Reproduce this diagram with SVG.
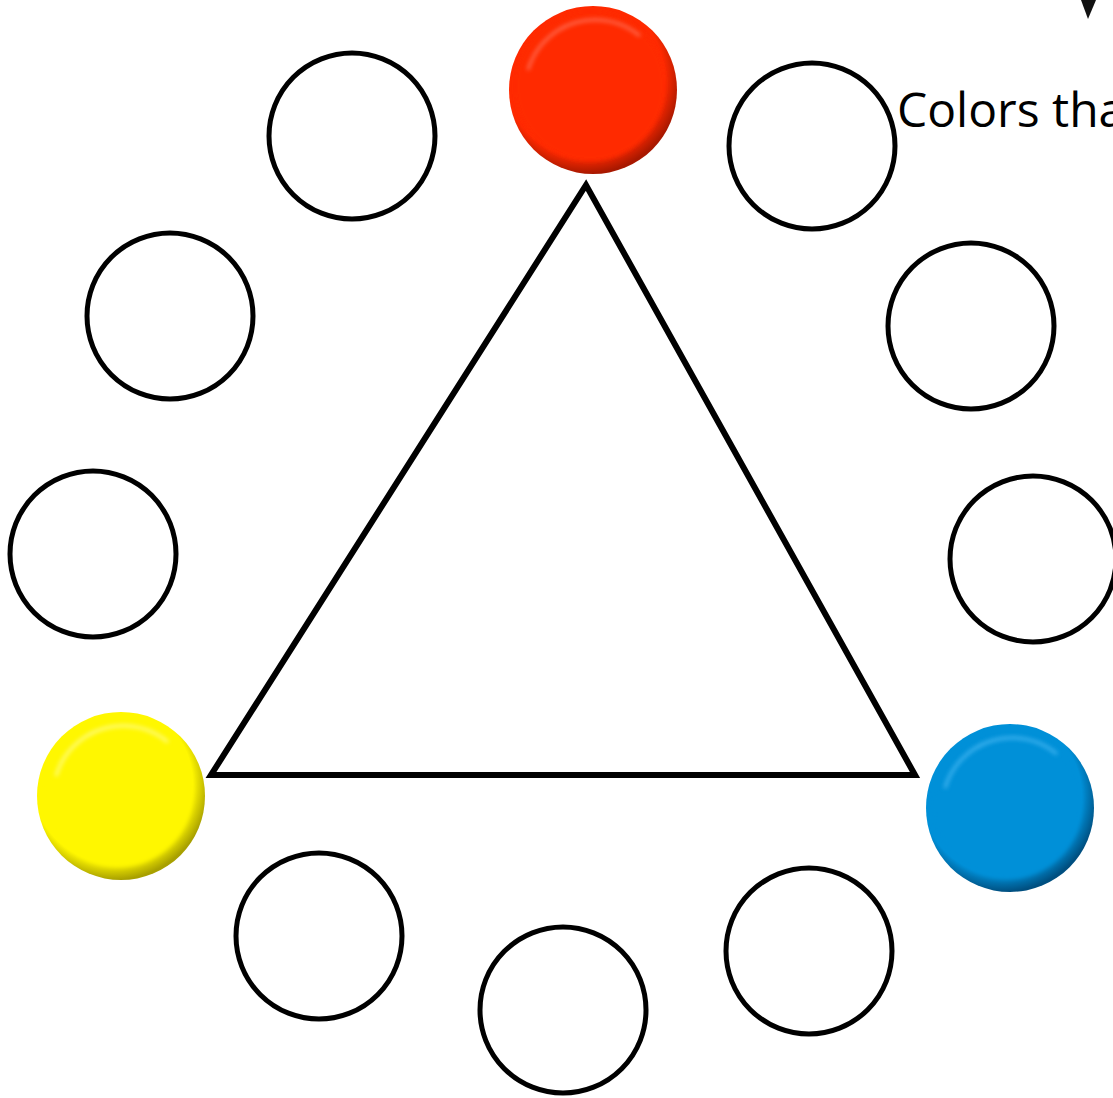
<svg xmlns="http://www.w3.org/2000/svg" width="1113" height="1098" viewBox="0 0 1113 1098">
<style>
.ring{fill:#fff;stroke:#000;stroke-width:5}
.tri{fill:none;stroke:#000;stroke-width:6;stroke-linejoin:miter}
.lbl{font-family:"Open Sans","Liberation Sans",sans-serif;font-size:48px;fill:#000}
</style>
<defs>
<filter id="soft" x="-10%" y="-10%" width="120%" height="120%"><feGaussianBlur stdDeviation="2"/></filter>
<radialGradient id="gR" cx="45%" cy="42%" r="58%"><stop offset="0.82" stop-color="#FF2A00"/><stop offset="1" stop-color="#A81800"/></radialGradient>
<radialGradient id="gY" cx="45%" cy="42%" r="58%"><stop offset="0.82" stop-color="#FFF700"/><stop offset="1" stop-color="#A8A000"/></radialGradient>
<radialGradient id="gB" cx="45%" cy="42%" r="58%"><stop offset="0.82" stop-color="#0090D8"/><stop offset="1" stop-color="#004F80"/></radialGradient>
</defs>
<rect width="1113" height="1098" fill="#fff"/>
<g id="connectors">
<polygon class="tri" points="586,185 211,775 915,775"/>
<polygon points="1081,0 1096,0 1088,19" fill="#111"/>
</g>
<g id="red">
<circle cx="593" cy="90" r="84" fill="url(#gR)"/>
<circle cx="590" cy="86" r="75" fill="#FF2A00" filter="url(#soft)"/>
<path d="M528,70 A70,70 0 0 1 640,36" fill="none" stroke="#FF6A50" stroke-width="3" filter="url(#soft)"/>
</g>
<g id="yellow">
<circle cx="121" cy="796" r="84" fill="url(#gY)"/>
<circle cx="118" cy="792" r="75" fill="#FFF700" filter="url(#soft)"/>
<path d="M56,776 A70,70 0 0 1 168,742" fill="none" stroke="#FFFB80" stroke-width="3" filter="url(#soft)"/>
</g>
<g id="blue">
<circle cx="1010" cy="808" r="84" fill="url(#gB)"/>
<circle cx="1007" cy="804" r="75" fill="#0090D8" filter="url(#soft)"/>
<path d="M945,788 A70,70 0 0 1 1057,754" fill="none" stroke="#40B4F0" stroke-width="3" filter="url(#soft)"/>
</g>
<g id="c1"><circle class="ring" cx="352" cy="136" r="83"/></g>
<g id="c2"><circle class="ring" cx="812" cy="146" r="83"/></g>
<g id="c3"><circle class="ring" cx="170" cy="316" r="83"/></g>
<g id="c4"><circle class="ring" cx="971" cy="326" r="83"/></g>
<g id="c5"><circle class="ring" cx="93" cy="554" r="83"/></g>
<g id="c6"><circle class="ring" cx="1033" cy="559" r="83"/></g>
<g id="c7"><circle class="ring" cx="319" cy="936" r="83"/></g>
<g id="c8"><circle class="ring" cx="809" cy="951" r="83"/></g>
<g id="c9"><circle class="ring" cx="563" cy="1010" r="83"/></g>
<g id="label"><text class="lbl" x="897" y="127">Colors tha</text></g>
</svg>
